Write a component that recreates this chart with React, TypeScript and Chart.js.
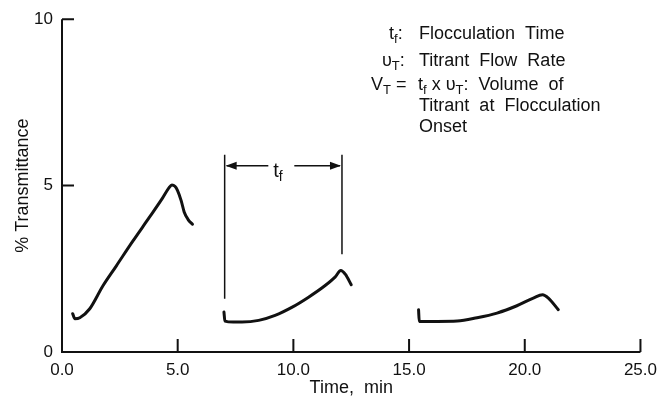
import React, { useEffect, useRef } from "react";
import { Chart, registerables } from "chart.js";

Chart.register(...registerables);

// ---- data ----
const run1Time = [0.46, 0.56, 0.77, 1.2, 1.77, 2.35, 3.06, 3.78, 4.35, 4.62, 4.75, 4.88, 4.99, 5.15, 5.28, 5.45, 5.64];
const run1Trans = [1.15, 1.0, 1.03, 1.3, 1.99, 2.59, 3.33, 4.05, 4.63, 4.93, 5.02, 4.98, 4.86, 4.55, 4.21, 3.98, 3.84];
const run2Time = [7.0, 7.04, 7.4, 7.78, 8.5, 9.21, 9.93, 10.64, 11.36, 11.8, 12.05, 12.25, 12.5];
const run2Trans = [1.2, 0.93, 0.9, 0.9, 0.95, 1.1, 1.34, 1.64, 1.99, 2.25, 2.45, 2.33, 2.02];
const run3Time = [15.41, 15.44, 16.22, 17.08, 17.94, 18.8, 19.66, 20.37, 20.77, 21.02, 21.45];
const run3Trans = [1.27, 0.92, 0.92, 0.93, 1.03, 1.17, 1.39, 1.62, 1.72, 1.62, 1.27];

const xTickValues = [0, 5, 10, 15, 20, 25];
const yTickValues = [0, 5, 10];

// bracket marking t_f on the second run (data units)
const bracketStart = 7.03;
const bracketEnd = 12.1;
const bracketTop = 5.93;
const bracketArrowLevel = 5.6;
const bracketLeftBottom = 1.6;
const bracketRightBottom = 2.94;

// annotation column (data units on the time axis)
const noteColumnTime = 15.43;

const FONT = '"Liberation Sans", Arial, Helvetica, sans-serif';
const INK = "#111";

type Run = { t: string; sub?: boolean };

function drawRuns(ctx: CanvasRenderingContext2D, x: number, y: number, runs: Run[], size = 18) {
  let cx = x;
  const subSize = Math.round(size * 0.72);
  for (const r of runs) {
    ctx.font = r.sub ? `${subSize}px ${FONT}` : `${size}px ${FONT}`;
    ctx.fillText(r.t, cx, r.sub ? y + 4 : y);
    cx += ctx.measureText(r.t).width;
  }
  return cx;
}

const framePlugin = {
  id: "frame",
  afterDraw(chart: any) {
    const { ctx } = chart;
    const xs = chart.scales.x;
    const ys = chart.scales.y;
    ctx.save();
    ctx.strokeStyle = INK;
    ctx.fillStyle = INK;
    ctx.lineWidth = 2;
    ctx.lineCap = "butt";
    const x0 = xs.getPixelForValue(0);
    const y0 = ys.getPixelForValue(0);
    // axis lines
    ctx.beginPath();
    ctx.moveTo(x0, ys.getPixelForValue(10));
    ctx.lineTo(x0, y0);
    ctx.lineTo(xs.getPixelForValue(25), y0);
    ctx.stroke();
    // inward ticks
    ctx.beginPath();
    yTickValues.forEach((v) => {
      if (v === 0) return;
      const py = ys.getPixelForValue(v);
      ctx.moveTo(x0, py);
      ctx.lineTo(x0 + 12, py);
    });
    xTickValues.forEach((v) => {
      if (v === 0) return;
      const px = xs.getPixelForValue(v);
      ctx.moveTo(px, y0);
      ctx.lineTo(px, y0 - 13);
    });
    ctx.stroke();

    // bracket for t_f
    ctx.lineWidth = 1.5;
    const bx1 = xs.getPixelForValue(bracketStart);
    const bx2 = xs.getPixelForValue(bracketEnd);
    const by = ys.getPixelForValue(bracketArrowLevel);
    ctx.beginPath();
    ctx.moveTo(bx1, ys.getPixelForValue(bracketTop));
    ctx.lineTo(bx1, ys.getPixelForValue(bracketLeftBottom));
    ctx.moveTo(bx2, ys.getPixelForValue(bracketTop));
    ctx.lineTo(bx2, ys.getPixelForValue(bracketRightBottom));
    const mid = (bx1 + bx2) / 2;
    ctx.moveTo(bx1 + 2, by);
    ctx.lineTo(mid - 15, by);
    ctx.moveTo(mid + 11, by);
    ctx.lineTo(bx2 - 2, by);
    ctx.stroke();
    // arrow heads
    ctx.beginPath();
    ctx.moveTo(bx1 + 1, by);
    ctx.lineTo(bx1 + 12, by - 4);
    ctx.lineTo(bx1 + 12, by + 4);
    ctx.closePath();
    ctx.moveTo(bx2 - 1, by);
    ctx.lineTo(bx2 - 12, by - 4);
    ctx.lineTo(bx2 - 12, by + 4);
    ctx.closePath();
    ctx.fill();
    ctx.textBaseline = "alphabetic";
    drawRuns(ctx, mid - 10, by + 11, [{ t: "t" }, { t: "f", sub: true }], 20);

    // annotation block
    const cx = xs.getPixelForValue(noteColumnTime);
    drawRuns(ctx, cx - 30, 39, [{ t: "t" }, { t: "f", sub: true }, { t: ":" }]);
    drawRuns(ctx, cx, 39, [{ t: "Flocculation  Time" }]);
    drawRuns(ctx, cx - 37, 66, [{ t: "υ" }, { t: "T", sub: true }, { t: ":" }]);
    drawRuns(ctx, cx, 66, [{ t: "Titrant  Flow  Rate" }]);
    drawRuns(ctx, cx - 48, 90, [{ t: "V" }, { t: "T", sub: true }, { t: " =" }]);
    drawRuns(ctx, cx - 1, 90, [
      { t: "t" },
      { t: "f", sub: true },
      { t: " x " },
      { t: "υ" },
      { t: "T", sub: true },
      { t: ":  Volume  of" },
    ]);
    drawRuns(ctx, cx, 111, [{ t: "Titrant  at  Flocculation" }]);
    drawRuns(ctx, cx, 132, [{ t: "Onset" }]);
    ctx.restore();
  },
};

export default function App() {
  const ref = useRef<HTMLCanvasElement>(null);
  useEffect(() => {
    document.body.style.margin = "0";
    if (!ref.current) return;
    const pts = (xs: number[], ys: number[]) => xs.map((x, i) => ({ x, y: ys[i] }));
    const ds = (label: string, data: { x: number; y: number }[]) => ({
      label,
      data,
      borderColor: INK,
      borderWidth: 3,
      pointRadius: 0,
      cubicInterpolationMode: "monotone" as const,
      fill: false,
      borderCapStyle: "round" as const,
      borderJoinStyle: "round" as const,
    });
    const chart = new Chart(ref.current, {
      type: "line",
      data: {
        datasets: [
          ds("Run 1", pts(run1Time, run1Trans)),
          ds("Run 2", pts(run2Time, run2Trans)),
          ds("Run 3", pts(run3Time, run3Trans)),
        ],
      },
      options: {
        responsive: false,
        animation: false,
        layout: { padding: { top: 15, right: 23, left: 0, bottom: 0 } },
        plugins: { legend: { display: false }, tooltip: { enabled: false } },
        scales: {
          x: {
            type: "linear",
            min: 0,
            max: 25,
            afterFit: (s: any) => {
              s.height = 48;
            },
            afterBuildTicks: (s: any) => {
              s.ticks = xTickValues.map((v) => ({ value: v }));
            },
            grid: { display: false, drawTicks: false },
            border: { display: false },
            ticks: {
              color: INK,
              padding: 8,
              font: { family: FONT, size: 17 },
              callback: (v: any) => Number(v).toFixed(1),
              maxRotation: 0,
            },
            title: {
              display: true,
              text: "Time,  min",
              color: INK,
              font: { family: FONT, size: 18 },
              padding: { top: 0, bottom: 1 },
            },
          },
          y: {
            type: "linear",
            min: 0,
            max: 10,
            afterFit: (s: any) => {
              s.width = 62;
            },
            afterBuildTicks: (s: any) => {
              s.ticks = yTickValues.map((v) => ({ value: v }));
            },
            grid: { display: false, drawTicks: false },
            border: { display: false },
            ticks: {
              color: INK,
              padding: 9,
              font: { family: FONT, size: 17 },
            },
            title: {
              display: true,
              text: "% Transmittance",
              color: INK,
              font: { family: FONT, size: 18 },
              padding: { top: 12, bottom: 0 },
            },
          },
        },
      },
      plugins: [framePlugin],
    });
    return () => chart.destroy();
  }, []);
  return (
    <div style={{ position: "fixed", left: 0, top: 0, width: 665, height: 400, background: "#fff" }}>
      <canvas ref={ref} width={665} height={400} style={{ display: "block" }} />
    </div>
  );
}
